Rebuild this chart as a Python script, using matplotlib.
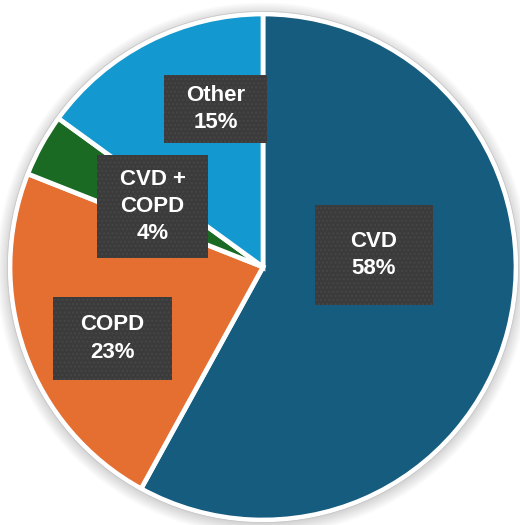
import matplotlib
matplotlib.use('Agg')
import matplotlib.pyplot as plt
from matplotlib.patches import Circle, Rectangle

# Répartition des patients par diagnostic
categories = ['CVD', 'COPD', 'CVD +\nCOPD', 'Other']
shares = [58, 23, 4, 15]
colors = ['#155c7e', '#e56e31', '#1b6a23', '#1399d0']

W, H = 520, 525
cx, cy, r = 263, H - 267, 253

# Boîtes des étiquettes (x gauche, y haut, largeur, hauteur) en pixels
label_boxes = [(315, 205, 118, 100), (53, 297, 119, 83), (97, 155, 111, 103), (164, 75, 103, 68)]

fig = plt.figure(figsize=(W / 100, H / 100), dpi=100)
ax = fig.add_axes([0, 0, 1, 1])

# Ombre douce autour du disque
for i in range(14):
    ax.add_patch(Circle((cx, cy - 2), r + 2 + i * 0.9, color='black',
                        alpha=0.012, lw=0, zorder=0))

ax.pie(shares, colors=colors, startangle=90, counterclock=False,
       center=(cx, cy), radius=r, frame=True,
       wedgeprops=dict(edgecolor='white', linewidth=3.4))
ax.add_patch(Circle((cx, cy), r + 2.6, fill=False, edgecolor='#c8c8c8', lw=0.6, zorder=3))
ax.set_xlim(0, W)
ax.set_ylim(0, H)
ax.set_aspect('equal')
ax.axis('off')

for (x, y, w, h), cat, val in zip(label_boxes, categories, shares):
    ax.add_patch(Rectangle((x, H - y - h), w, h, facecolor='#3b3b3b',
                           edgecolor='#464646', hatch='....', lw=0, zorder=4))
    ax.text(x + w / 2, H - y - h / 2, f"{cat}\n{val}%", color='white',
            ha='center', va='center', fontsize=16, fontweight='bold',
            family='Liberation Sans', linespacing=1.4, zorder=5)

plt.savefig('out.png', dpi=100)
plt.close()
